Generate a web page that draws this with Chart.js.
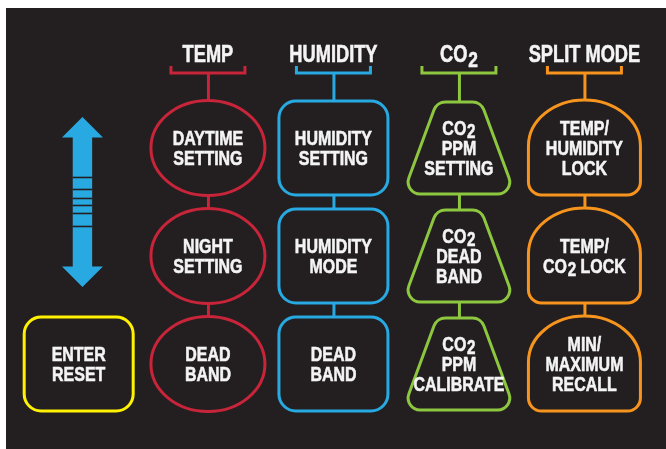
<!DOCTYPE html>
<html>
<head>
<meta charset="utf-8">
<script src="https://cdn.jsdelivr.net/npm/chart.js@4.4.1/dist/chart.umd.min.js"></script>
<style>
    html, body { margin: 0; padding: 0; background: #fff; overflow: hidden; }
    canvas { display: block; }
</style>
</head>
<body>
<canvas id="myChart" width="666" height="449"></canvas>
<script>
// columns of the panel and the buttons in each (CO_2 = CO with subscript 2)
const columns = ['TEMP', 'HUMIDITY', 'CO_2', 'SPLIT MODE'];
const columnX = [1, 2, 3, 4];
const rowY = [1, 2, 3];
const headerY = 0;

const tempLabels = ['DAYTIME\nSETTING', 'NIGHT\nSETTING', 'DEAD\nBAND'];
const humidityLabels = ['HUMIDITY\nSETTING', 'HUMIDITY\nMODE', 'DEAD\nBAND'];
const co2Labels = ['CO_2\nPPM\nSETTING', 'CO_2\nDEAD\nBAND', 'CO_2\nPPM\nCALIBRATE'];
const splitLabels = ['TEMP/\nHUMIDITY\nLOCK', 'TEMP/\nCO_2 LOCK', 'MIN/\nMAXIMUM\nRECALL'];
const enterLabels = ['ENTER\nRESET'];
const enterPoint = { x: -0.03, y: 3 };
const arrowPoint = { x: 0, y: 1.5 };

const BG = '#231f20';
const colColors = ['#c8243a', '#29a9e1', '#8dc63f', '#f7941d'];
const colShapes = ['ellipse', 'roundRect', 'flask', 'bell'];
const FONT = '"Liberation Sans", Arial, sans-serif';
const NARROW = 0.76; // squeeze to look like a condensed face

const buttonSets = [tempLabels, humidityLabels, co2Labels, splitLabels];

const datasets = [];
datasets.push({
    label: 'headers',
    kind: 'header',
    data: columns.map((name, c) => ({ x: columnX[c], y: headerY, text: name, color: colColors[c] })),
});
buttonSets.forEach((labels, c) => {
    datasets.push({
        label: columns[c],
        kind: colShapes[c],
        color: colColors[c],
        data: rowY.map((y, i) => ({ x: columnX[c], y: y, text: labels[i] })),
    });
});
datasets.push({
    label: 'enter',
    kind: 'roundRect',
    color: '#fff200',
    data: enterLabels.map((t) => ({ x: enterPoint.x, y: enterPoint.y, text: t })),
});
datasets.push({
    label: 'arrow',
    kind: 'arrow',
    color: '#29a9e1',
    data: [{ x: arrowPoint.x, y: arrowPoint.y }],
});

function richWidth(ctx, line, size) {
    let w = 0;
    line.split('_2').forEach((part, i, arr) => {
        ctx.font = 'bold ' + size + 'px ' + FONT;
        w += ctx.measureText(part).width;
        if (i < arr.length - 1) {
            ctx.font = 'bold ' + (size * 0.95) + 'px ' + FONT;
            w += ctx.measureText('2').width + 1;
        }
    });
    return w;
}

function drawRich(ctx, line, cx, baseline, size, drop) {
    const w = richWidth(ctx, line, size);
    ctx.save();
    ctx.translate(cx, baseline);
    ctx.scale(NARROW, 1);
    let x = -w / 2;
    ctx.textAlign = 'left';
    ctx.textBaseline = 'alphabetic';
    ctx.fillStyle = '#f4f4f4';
    ctx.strokeStyle = '#f4f4f4';
    ctx.lineWidth = 0.6;
    line.split('_2').forEach((part, i, arr) => {
        ctx.font = 'bold ' + size + 'px ' + FONT;
        ctx.fillText(part, x, 0);
        ctx.strokeText(part, x, 0);
        x += ctx.measureText(part).width;
        if (i < arr.length - 1) {
            ctx.font = 'bold ' + (size * 0.95) + 'px ' + FONT;
            ctx.fillText('2', x + 1, drop);
            ctx.strokeText('2', x + 1, drop);
            x += ctx.measureText('2').width + 1;
        }
    });
    ctx.restore();
}

function drawLabel(ctx, text, cx, cy) {
    const lines = text.split('\n');
    const lh = 20;
    const size = 21;
    const first = cy - (lines.length - 1) * lh / 2 + 7.5;
    lines.forEach((l, i) => drawRich(ctx, l, cx, first + i * lh, size, 3));
}

function roundPoly(ctx, pts, radii) {
    const n = pts.length;
    const start = [(pts[0][0] + pts[n - 1][0]) / 2, (pts[0][1] + pts[n - 1][1]) / 2];
    ctx.beginPath();
    ctx.moveTo(start[0], start[1]);
    for (let i = 0; i < n; i++) {
        const p = pts[i];
        const q = pts[(i + 1) % n];
        ctx.arcTo(p[0], p[1], q[0], q[1], radii[i]);
    }
    ctx.closePath();
}

function shapePath(ctx, kind, x, y) {
    if (kind === 'ellipse') {
        ctx.beginPath();
        ctx.ellipse(x, y, 57, 47.5, 0, 0, Math.PI * 2);
    } else if (kind === 'roundRect') {
        ctx.beginPath();
        ctx.roundRect(x - 54.5, y - 47, 109, 94, 17);
    } else if (kind === 'flask') {
        roundPoly(ctx, [[x - 22, y - 46], [x + 22, y - 46], [x + 56, y + 46], [x - 56, y + 46]], [12, 12, 12, 12]);
    } else if (kind === 'bell') {
        const w = 56, top = y - 48, bot = y + 47, r = 13;
        ctx.beginPath();
        ctx.moveTo(x - w, bot - r);
        ctx.lineTo(x - w, top + 46);
        ctx.ellipse(x, top + 46, w, 46, 0, Math.PI, Math.PI * 2);
        ctx.lineTo(x + w, bot - r);
        ctx.arcTo(x + w, bot, x + w - r, bot, r);
        ctx.lineTo(x - w + r, bot);
        ctx.arcTo(x - w, bot, x - w, bot - r, r);
        ctx.closePath();
    }
}

function drawArrow(ctx, color, x, y) {
    ctx.fillStyle = color;
    ctx.beginPath();
    ctx.moveTo(x, y - 85);
    ctx.lineTo(x + 20.5, y - 64.5);
    ctx.lineTo(x + 9.7, y - 64.5);
    ctx.lineTo(x + 9.7, y + 64.5);
    ctx.lineTo(x + 20.5, y + 64.5);
    ctx.lineTo(x, y + 85);
    ctx.lineTo(x - 20.5, y + 64.5);
    ctx.lineTo(x - 9.7, y + 64.5);
    ctx.lineTo(x - 9.7, y - 64.5);
    ctx.lineTo(x - 20.5, y - 64.5);
    ctx.closePath();
    ctx.fill();
    ctx.strokeStyle = BG;
    ctx.lineWidth = 1.6;
    [-24.5, -12.5, -3.5, 3.5, 11.5, 24.5].forEach((d) => {
        ctx.beginPath();
        ctx.moveTo(x - 10, y + d);
        ctx.lineTo(x + 10, y + d);
        ctx.stroke();
    });
}

const panelPlugin = {
    id: 'panel',
    beforeDraw(chart) {
        const ctx = chart.ctx;
        ctx.save();
        ctx.fillStyle = BG;
        ctx.fillRect(6, 8, chart.width - 6, chart.height - 8);
        ctx.restore();
    },
    afterDatasetsDraw(chart) {
        const ctx = chart.ctx;
        const yScale = chart.scales.y;
        const lastRow = yScale.getPixelForValue(rowY[rowY.length - 1]);
        ctx.save();
        ctx.lineWidth = 3;
        chart.data.datasets.forEach((ds, i) => {
            const meta = chart.getDatasetMeta(i);
            meta.data.forEach((el, j) => {
                const pt = ds.data[j];
                if (ds.kind === 'header') {
                    drawRich(ctx, pt.text, el.x, el.y + 22, 24, 5);
                    const by = el.y + 33;
                    ctx.strokeStyle = pt.color;
                    ctx.lineWidth = 3;
                    ctx.beginPath();
                    ctx.moveTo(el.x - 37, by - 7);
                    ctx.lineTo(el.x - 37, by);
                    ctx.lineTo(el.x + 37, by);
                    ctx.lineTo(el.x + 37, by - 7);
                    ctx.stroke();
                    ctx.beginPath();
                    ctx.moveTo(el.x + 0.5, by);
                    ctx.lineTo(el.x + 0.5, lastRow);
                    ctx.stroke();
                }
            });
        });
        chart.data.datasets.forEach((ds, i) => {
            if (ds.kind === 'header') return;
            const meta = chart.getDatasetMeta(i);
            meta.data.forEach((el, j) => {
                const pt = ds.data[j];
                if (ds.kind === 'arrow') {
                    drawArrow(ctx, ds.color, el.x, el.y);
                    return;
                }
                shapePath(ctx, ds.kind, el.x, el.y);
                ctx.fillStyle = BG;
                ctx.fill();
                ctx.strokeStyle = ds.color;
                ctx.lineWidth = 3;
                ctx.stroke();
                drawLabel(ctx, pt.text, el.x, el.y);
            });
        });
        ctx.restore();
    },
};

const ctx = document.getElementById('myChart').getContext('2d');
const myChart = new Chart(ctx, {
    type: 'scatter',
    data: { datasets: datasets },
    options: {
        responsive: false,
        animation: false,
        events: [],
        elements: { point: { radius: 0, hoverRadius: 0 } },
        layout: { padding: 0 },
        plugins: {
            legend: { display: false },
            tooltip: { enabled: false },
        },
        scales: {
            x: { type: 'linear', min: -0.657, max: 4.65, display: false },
            y: { type: 'linear', min: -0.370, max: 3.787, reverse: true, display: false },
        },
    },
    plugins: [panelPlugin],
});
</script>
</body>
</html>
